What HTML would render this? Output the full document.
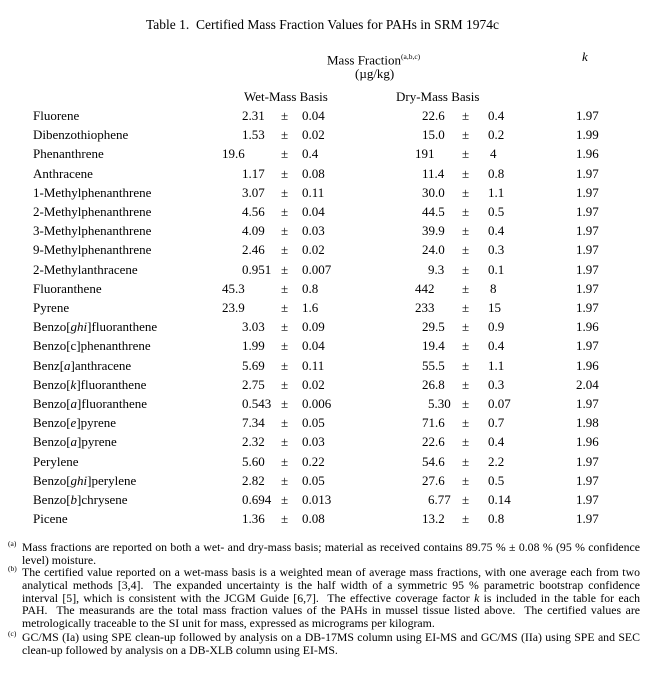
<!DOCTYPE html>
<html><head><meta charset="utf-8"><style>
body{margin:0;width:656px;height:683px;background:#fff;position:relative;font-family:"Liberation Serif",serif;color:#000;overflow:hidden}
.a{position:absolute;white-space:nowrap;font-size:13px;line-height:15px}
.f{position:absolute;left:22px;width:618px;font-size:11.8px;line-height:12.8px;text-align:justify}
.f sup{position:absolute;left:-14px;top:-3px;font-size:7.5px}
sup.s{font-size:7.5px}
</style></head><body>
<div class="a" style="left:146px;top:17px;font-size:13.5px">Table 1.&nbsp; Certified Mass Fraction Values for PAHs in SRM 1974c</div>
<div class="a" style="left:327px;top:49px">Mass Fraction<sup class="s">(a,b,c)</sup></div>
<div class="a" style="left:355px;top:66px">(µg/kg)</div>
<div class="a" style="left:582px;top:49px;font-style:italic">k</div>
<div class="a" style="left:244px;top:89px">Wet-Mass Basis</div>
<div class="a" style="left:396px;top:89px">Dry-Mass Basis</div>
<div id="rows"></div>
<div class="f" style="top:541px"><sup>(a)</sup>Mass fractions are reported on both a wet- and dry-mass basis; material as received contains 89.75 % ± 0.08 % (95 % confidence level) moisture.</div>
<div class="f" style="top:566px"><sup>(b)</sup>The certified value reported on a wet-mass basis is a weighted mean of average mass fractions, with one average each from two analytical methods [3,4].&nbsp; The expanded uncertainty is the half width of a symmetric 95 % parametric bootstrap confidence interval [5], which is consistent with the JCGM Guide [6,7].&nbsp; The effective coverage factor <i>k</i> is included in the table for each PAH.&nbsp; The measurands are the total mass fraction values of the PAHs in mussel tissue listed above.&nbsp; The certified values are metrologically traceable to the SI unit for mass, expressed as micrograms per kilogram.</div>
<div class="f" style="top:631px"><sup>(c)</sup>GC/MS (Ia) using SPE clean-up followed by analysis on a DB-17MS column using EI-MS and GC/MS (IIa) using SPE and SEC clean-up followed by analysis on a DB-XLB column using EI-MS.</div>
<script>
var R=[["Fluorene","2.31","0.04","22.6","0.4","1.97"],
["Dibenzothiophene","1.53","0.02","15.0","0.2","1.99"],
["Phenanthrene","19.6","0.4","191","4","1.96"],
["Anthracene","1.17","0.08","11.4","0.8","1.97"],
["1-Methylphenanthrene","3.07","0.11","30.0","1.1","1.97"],
["2-Methylphenanthrene","4.56","0.04","44.5","0.5","1.97"],
["3-Methylphenanthrene","4.09","0.03","39.9","0.4","1.97"],
["9-Methylphenanthrene","2.46","0.02","24.0","0.3","1.97"],
["2-Methylanthracene","0.951","0.007","9.3","0.1","1.97"],
["Fluoranthene","45.3","0.8","442","8","1.97"],
["Pyrene","23.9","1.6","233","15","1.97"],
["Benzo[<i>ghi</i>]fluoranthene","3.03","0.09","29.5","0.9","1.96"],
["Benzo[c]phenanthrene","1.99","0.04","19.4","0.4","1.97"],
["Benz[<i>a</i>]anthracene","5.69","0.11","55.5","1.1","1.96"],
["Benzo[<i>k</i>]fluoranthene","2.75","0.02","26.8","0.3","2.04"],
["Benzo[<i>a</i>]fluoranthene","0.543","0.006","5.30","0.07","1.97"],
["Benzo[<i>e</i>]pyrene","7.34","0.05","71.6","0.7","1.98"],
["Benzo[<i>a</i>]pyrene","2.32","0.03","22.6","0.4","1.96"],
["Perylene","5.60","0.22","54.6","2.2","1.97"],
["Benzo[<i>ghi</i>]perylene","2.82","0.05","27.6","0.5","1.97"],
["Benzo[<i>b</i>]chrysene","0.694","0.013","6.77","0.14","1.97"],
["Picene","1.36","0.08","13.2","0.8","1.97"]];
var h="";
R.forEach(function(r,i){
 var y=108+i*19.2;
 var wx=r[1].length==4&&r[1].indexOf(".")==2?222:242;
 var dx=r[3].length==3&&r[3].indexOf(".")<0?415:(r[3].indexOf(".")==1?428:422);
 var ux=r[4].length==1?490:488;
 h+='<div class="a" style="left:33px;top:'+y+'px">'+r[0]+'</div>'+
 '<div class="a" style="left:'+wx+'px;top:'+y+'px">'+r[1]+'</div>'+
 '<div class="a" style="left:281px;top:'+y+'px">±</div>'+
 '<div class="a" style="left:302px;top:'+y+'px">'+r[2]+'</div>'+
 '<div class="a" style="left:'+dx+'px;top:'+y+'px">'+r[3]+'</div>'+
 '<div class="a" style="left:462px;top:'+y+'px">±</div>'+
 '<div class="a" style="left:'+ux+'px;top:'+y+'px">'+r[4]+'</div>'+
 '<div class="a" style="left:576px;top:'+y+'px">'+r[5]+'</div>';
});
document.getElementById("rows").innerHTML=h;
</script>
</body></html>
